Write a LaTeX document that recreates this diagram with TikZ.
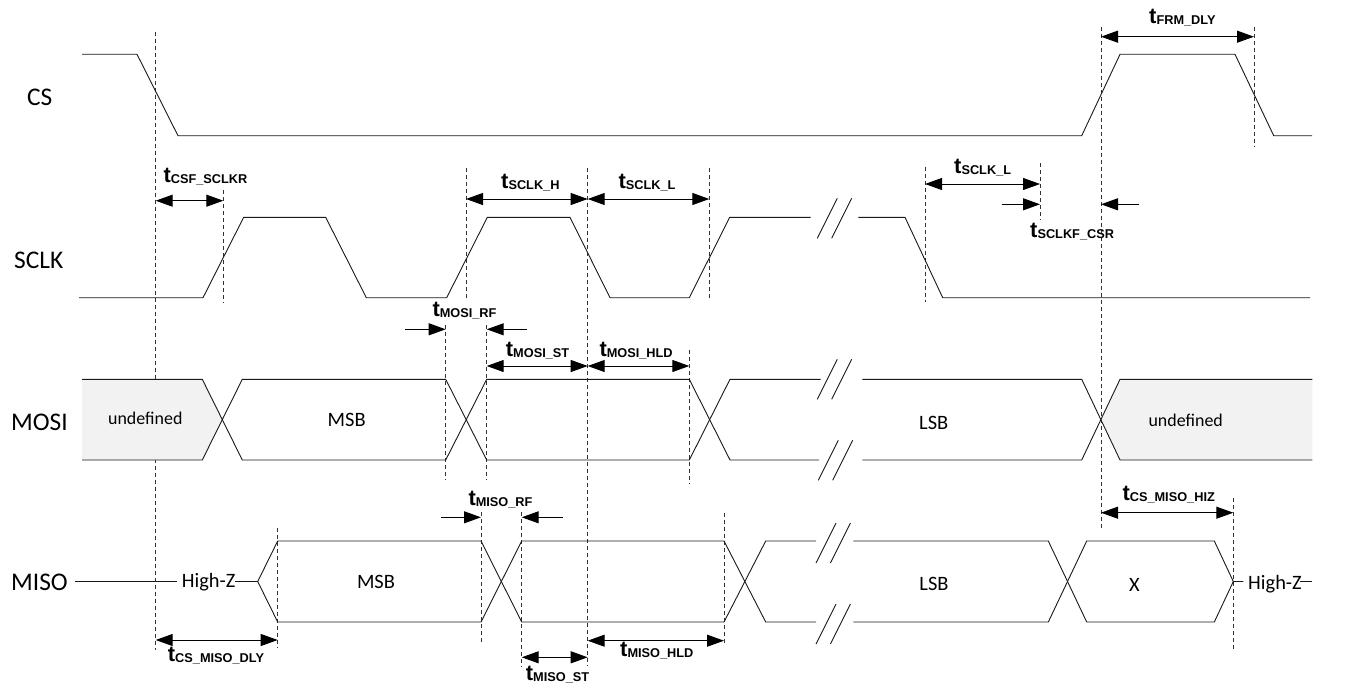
\documentclass[tikz,border=0pt]{standalone}
\usepackage{fontspec}
\setmainfont{Carlito}
\newfontfamily\tfont{Liberation Sans}
\usetikzlibrary{arrows.meta}
\definecolor{undefgray}{RGB}{242,242,242}
\newcommand\tlab[1]{{\tfont\bfseries\fontsize{22}{22}\selectfont t\fontsize{12.8}{13}\selectfont\raisebox{-1bp}{#1}}}
\newcommand\brkmark[2]{\draw[sig] ({#1-10},{#2+20}) -- ({#1+10},{#2-20}) ({#1+4.4},{#2+20}) -- ({#1+24.4},{#2-20});}
\begin{document}
\begin{tikzpicture}[x=1bp,y=-1bp,
  sig/.style={line width=0.9bp, black!90, line join=miter},
  dsh/.style={line width=0.7bp, black!80, dash pattern=on 4bp off 3bp},
  dim/.style={line width=1bp, {Triangle[length=17bp,width=12bp]}-{Triangle[length=17bp,width=12bp]}},
  arr/.style={line width=1bp, -{Triangle[length=17bp,width=12bp]}},
  siglbl/.style={anchor=base west, inner sep=0, font=\fontsize{25.5}{26}\selectfont},
  txt/.style={anchor=base, inner sep=0, font=\fontsize{20.5}{21}\selectfont},
  utxt/.style={anchor=base, inner sep=0, font=\fontsize{18}{19}\selectfont},
  tl/.style={anchor=base west, inner sep=0}]
\useasboundingbox (0,0) rectangle (1353,688);

% dashed reference lines
\draw[dsh] (155.7,31.7) -- (155.7,650);
\draw[dsh] (223.3,190) -- (223.3,303.3);
\draw[dsh] (466,168.3) -- (466,300);
\draw[dsh] (587.7,168.3) -- (587.7,666);
\draw[dsh] (709.3,168.3) -- (709.3,300);
\draw[dsh] (925,166.7) -- (925,301.7);
\draw[dsh] (1040,163.3) -- (1040,220);
\draw[dsh] (1101,26.7) -- (1101,528.3);
\draw[dsh] (1254,26.7) -- (1254,146.7);
\draw[dsh] (445.7,325) -- (445.7,480);
\draw[dsh] (486.7,325) -- (486.7,480);
\draw[dsh] (689.3,350) -- (689.3,483.3);
\draw[dsh] (481,512) -- (481,645);
\draw[dsh] (521.7,512) -- (521.7,667);
\draw[dsh] (724,512.7) -- (724,645);
\draw[dsh] (277.7,528.3) -- (277.7,648.3);
\draw[dsh] (1233.3,498.3) -- (1233.3,650);

% signal names
\node[siglbl] (lcs) at (27,105.3) {CS};
\node[siglbl] (lsclk) at (14,268.3) {SCLK};
\node[siglbl] (lmosi) at (11,430) {MOSI};
\node[siglbl] (lmiso) at (11,590) {MISO};

% CS
\draw[sig] (82,54.3) -- (137,54.3) -- (178,135.7) -- (1081.7,135.7) -- (1120,54.3) -- (1235,54.3) -- (1273.7,135.7) -- (1312,135.7);

% SCLK
\draw[sig] (79,297.7) -- (203,297.7) -- (243.7,217.3) -- (325.7,217.3) -- (366.3,297.7) -- (446.7,297.7) -- (487.3,217.3) -- (570,217.3) -- (610,297.7) -- (689.3,297.7) -- (729.7,217.3) -- (810.7,217.3);
\draw[sig] (858.3,217.3) -- (905,217.3) -- (942.7,297.7) -- (1310,297.7);
\brkmark{827.3}{218.3}

% MOSI
\fill[undefgray] (82,379.3) -- (202.3,379.3) -- (222.3,419.7) -- (202.3,460) -- (82,460) -- cycle;
\fill[undefgray] (1312.3,379.3) -- (1120,379.3) -- (1101,419.7) -- (1120,460) -- (1312.3,460) -- cycle;
\draw[sig] (82,379.3) -- (202.3,379.3) -- (242.3,460) -- (445.7,460) -- (486.7,379.3) -- (689.3,379.3) -- (730,460) -- (819,460);
\draw[sig] (82,460) -- (202.3,460) -- (242.3,379.3) -- (445.7,379.3) -- (486.7,460) -- (689.3,460) -- (730,379.3) -- (820.7,379.3);
\draw[sig] (862.3,379.3) -- (1081.7,379.3) -- (1120,460) -- (1312.3,460);
\draw[sig] (862.3,460) -- (1081.7,460) -- (1120,379.3) -- (1312.3,379.3);
\brkmark{827.3}{379.3}
\brkmark{828.3}{460.3}
\node[utxt] (und1) at (145.3,424.3) {undefined};
\node[txt] (msb1) at (346.7,426.7) {MSB};
\node[txt] (lsb1) at (933.7,429) {LSB};
\node[utxt] (und2) at (1185.7,426) {undefined};

% MISO
\node[txt] (hz1) at (208.7,587.7) {High-Z};
\node[txt] (hz2) at (1275,589) {High-Z};
\draw[sig] (75,581.5) -- (176.7,581.5);
\draw[sig] (235,581.5) -- (257.7,581.5) -- (277.7,541) -- (481,541) -- (521.7,622) -- (724,622) -- (765.7,541) -- (816,541);
\draw[sig] (257.7,581.5) -- (277.7,622) -- (481,622) -- (521.7,541) -- (724,541) -- (765.7,622) -- (816,622);
\draw[sig] (853.3,541) -- (1048.3,541) -- (1086.7,622) -- (1214.3,622) -- (1233.3,581.5) -- (1243.3,581.5);
\draw[sig] (853.3,622) -- (1048.3,622) -- (1086.7,541) -- (1214.3,541) -- (1233.3,581.5);
\draw[sig] (1300,581.5) -- (1311.7,581.5);
\brkmark{826}{543}
\brkmark{826}{624}
\node[txt] (msb2) at (376,588.3) {MSB};
\node[txt] (lsb2) at (934,590.7) {LSB};
\node[txt] (xx) at (1134.3,591.7) {X};

% timing arrows
\draw[dim] (155.7,200.7) -- (223.3,200.7);
\draw[dim] (466,199) -- (587.7,199);
\draw[dim] (587.7,199) -- (709.3,199);
\draw[dim] (925,184) -- (1040,184);
\draw[arr] (1001.7,204.3) -- (1040,204.3);
\draw[arr] (1139.3,204.3) -- (1101,204.3);
\draw[dim] (1101,36.7) -- (1254,36.7);
\draw[arr] (405,329.3) -- (445.7,329.3);
\draw[arr] (526.7,329.3) -- (486.7,329.3);
\draw[dim] (486.7,366) -- (587.7,366);
\draw[dim] (587.7,366) -- (689.3,366);
\draw[arr] (441,517.3) -- (481,517.3);
\draw[arr] (562.7,517.3) -- (521.7,517.3);
\draw[dim] (155.7,640) -- (277.7,640);
\draw[dim] (587.7,640.7) -- (724,640.7);
\draw[dim] (521.7,657.3) -- (587.7,657.3);
\draw[dim] (1101,512.7) -- (1233.3,512.7);

% timing labels
\node[tl] (t1) at (163.3,182.7) {\tlab{CSF\_SCLKR}};
\node[tl] (t2) at (501,188.3) {\tlab{SCLK\_H}};
\node[tl] (t3) at (618.3,188.3) {\tlab{SCLK\_L}};
\node[tl] (t4) at (954,173.3) {\tlab{SCLK\_L}};
\node[tl] (t5) at (1030,237.3) {\tlab{SCLKF\_CSR}};
\node[tl] (t6) at (1149,23.3) {\tlab{FRM\_DLY}};
\node[tl] (t7) at (432.3,316.7) {\tlab{MOSI\_RF}};
\node[tl] (t8) at (505.7,356) {\tlab{MOSI\_ST}};
\node[tl] (t9) at (599.3,356) {\tlab{MOSI\_HLD}};
\node[tl] (t10) at (468.3,505) {\tlab{MISO\_RF}};
\node[tl] (t11) at (620,656.7) {\tlab{MISO\_HLD}};
\node[tl] (t12) at (525.7,680.7) {\tlab{MISO\_ST}};
\node[tl] (t13) at (167.7,661.7) {\tlab{CS\_MISO\_DLY}};
\node[tl] (t14) at (1122.3,500) {\tlab{CS\_MISO\_HIZ}};
\end{tikzpicture}
\end{document}
